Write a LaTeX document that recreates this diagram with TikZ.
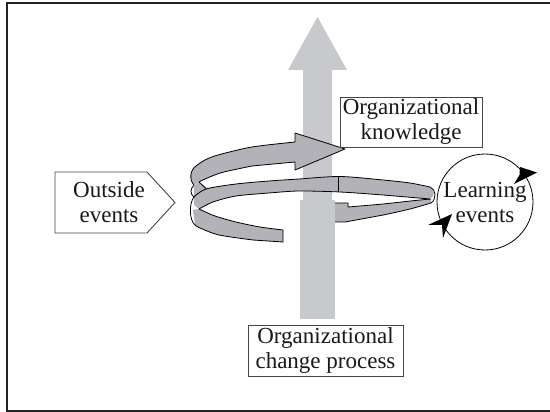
\documentclass[tikz,border=0pt]{standalone}
\usepackage{fontspec}
\setmainfont{Liberation Serif}
\definecolor{bandgray}{RGB}{178,178,184}
\definecolor{shaftgray}{RGB}{200,201,204}
\definecolor{txt}{RGB}{25,25,25}
\definecolor{boxline}{RGB}{70,70,70}
\definecolor{frame}{RGB}{35,35,35}
\begin{document}
\begin{tikzpicture}[x=1pt,y=-1pt,
  edge/.style={draw=black,line width=0.8pt,line join=round},
  lbl/.style={font=\fontsize{23}{25}\selectfont,text=txt,align=center},
  boxed/.style={lbl,draw=boxline,line width=0.9pt,fill=white,inner sep=0pt}]
\useasboundingbox (0,0) rectangle (550,412);
\draw[line width=2pt,draw=frame] (6.5,3.5) rectangle (562,411);

% far side of the lower turn, behind the bars
\fill[bandgray] plot[smooth] coordinates {(431,199) (415,200.5) (383,204) (348,207)} -- (348,203) -- (325,203) -- (325,222)
  -- plot[smooth] coordinates {(345,222) (383,215) (410,209) (431,203)} -- cycle;
\draw[edge] plot[smooth] coordinates {(431,199) (415,200.5) (383,204) (348,207)} -- (348,203) -- (325,203);
\draw[edge] (325,222) -- plot[smooth] coordinates {(345,222) (383,215) (410,209) (431,203)};

% big upward arrow and lower bar
\fill[shaftgray] (303,200) -- (303,70) -- (288,70) -- (317.5,17) -- (347,70) -- (332,70) -- (332,200) -- cycle;
\fill[shaftgray] (300,200) rectangle (335,319);

% far side piece at the upper left loop
\fill[bandgray] (199,182) -- (210,190) -- (215,200) -- (194,200) -- (194,186) -- cycle;
\draw[edge] (199,182) -- (207.5,190);

% tail band
\fill[bandgray] plot[smooth] coordinates {(199,209) (215,216) (236,222) (260,227) (283,230)} -- (283,242)
  -- plot[smooth] coordinates {(253,240) (219,235) (200,228) (195,225)} -- (193,210) -- cycle;
\draw[edge] plot[smooth] coordinates {(199,209) (215,216) (236,222) (260,227) (283,230)} -- (283,242)
  -- plot[smooth] coordinates {(253,240) (219,235) (200,228) (195,225)};

% middle band (front of the lower turn)
\fill[bandgray] plot[smooth] coordinates {(194,197) (206,189) (236,184) (269,181) (299,179) (340,176.5) (383,180) (410,183) (430,187)}
  .. controls (435,190) and (435,196) .. (430,199)
  -- plot[smooth] coordinates {(383,195) (340,192) (299,191) (269,193) (236,196) (213,202) (199,209)} -- (194,205) -- cycle;
\draw[edge] plot[smooth] coordinates {(194,197) (206,189) (236,184) (269,181) (299,179) (340,176.5) (383,180) (410,183) (430,187)};
\draw[edge] plot[smooth] coordinates {(430,199) (383,195) (340,192) (299,191) (269,193) (236,196) (213,202) (199,209)};
\draw[edge] (338,176.6) -- (338,192);
\draw[edge] (430,187) .. controls (436,189) and (437,199) .. (431,203);

% top band with arrow head
\fill[bandgray] plot[smooth] coordinates {(196,166) (205,160) (218,155) (252,147) (295,142)} -- (295,133) -- (345,149) -- (295,170) -- (295,162)
  -- plot[smooth] coordinates {(252,166) (222,172.5) (205,179) (199,182)} -- (194,185) .. controls (189,180) and (190,170) .. (196,166) -- cycle;
\draw[edge] plot[smooth] coordinates {(196,166) (205,160) (218,155) (252,147) (295,142)} -- (295,133) -- (345,149) -- (295,170) -- (295,162)
  -- plot[smooth] coordinates {(252,166) (222,172.5) (205,179) (199,182)};

% left outline of the loops
\draw[edge] (196,166) .. controls (190,170) and (189,180) .. (194,185) .. controls (190,189) and (190,194) .. (194,197);
\draw[edge] (194,197) .. controls (189,203) and (189,220) .. (195,225);

% boxes and labels
\node[boxed,minimum width=142,minimum height=50] (know) at (411,122) {Organizational\\knowledge};
\node[boxed,minimum width=155,minimum height=51] (change) at (325.5,350.5) {Organizational\\change process};
\draw[draw=boxline,line width=0.9pt,fill=white] (55,172) -- (147,172) -- (175,202.5) -- (147,233) -- (55,233) -- cycle;
\node[lbl] (outside) at (109,202.5) {Outside\\events};
\node[lbl,circle,draw=black,line width=0.8pt,minimum size=96,inner sep=0pt] (learn) at (485,202) {Learning\\events};
\fill[black] (520,167) -- (537,172.5) -- (514,184) -- (519.5,175) -- cycle;
\fill[black] (428,225) -- (452,214) -- (443,238) -- (442,225) -- cycle;
\end{tikzpicture}
\end{document}
